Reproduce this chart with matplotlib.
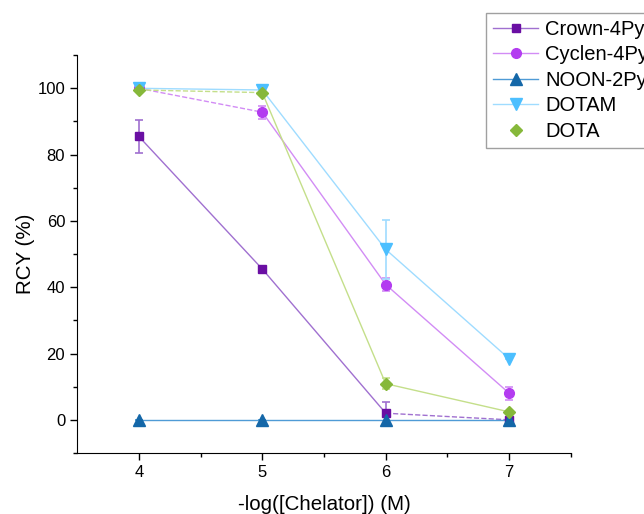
import matplotlib.pyplot as plt
from matplotlib.lines import Line2D

plt.rcParams['font.family'] = ['Liberation Sans', 'DejaVu Sans']

# -log([Chelator]) values
conc = [4, 5, 6, 7]

# RCY (%) per chelator, with error bars
crown = [85.5, 45.5, 2.0, 0.0]
crown_err = [5.0, 0.0, 3.3, 0.0]
cyclen = [100.0, 92.8, 40.8, 8.0]
cyclen_err = [0.0, 2.0, 2.0, 2.0]
noon = [0.0, 0.0, 0.0, 0.0]
noon_err = [0.0, 0.0, 1.5, 0.0]
dotam = [100.0, 99.5, 51.4, 18.4]
dotam_err = [0.0, 0.0, 8.8, 0.0]
dota = [99.5, 98.7, 10.9, 2.4]
dota_err = [0.0, 0.0, 1.7, 0.0]

labels = ["Crown-4Py", "Cyclen-4Py", "NOON-2Py", "DOTAM", "DOTA"]

# (marker, marker colour, line colour, segment styles, marker size)
series = [
    (crown, crown_err, "s", "#6a0fa3", "#a070d0", ["-", "-", "--"], 6),
    (cyclen, cyclen_err, "o", "#b33cf0", "#d28cf5", ["--", "-", "-"], 7),
    (noon, noon_err, "^", "#1467a8", "#4f9bd6", ["-", "-", "-"], 8),
    (dotam, dotam_err, "v", "#4cbfff", "#9fdcff", ["-", "-", "-"], 8),
    (dota, dota_err, "D", "#86b83a", "#c4df8a", ["--", "-", "-"], 6),
]

fig = plt.figure(figsize=(6.44, 5.14), dpi=100)
ax = fig.add_axes([0.1196, 0.1187, 0.767, 0.774])

handles = []
for (vals, errs, mk, mcol, lcol, styles, ms), lab in zip(series, labels):
    for i, ls in enumerate(styles):
        ax.plot(conc[i:i + 2], vals[i:i + 2], color=lcol, ls=ls, lw=1, zorder=2)
    ax.errorbar(conc, vals, yerr=errs, fmt="none", ecolor=lcol, elinewidth=1.2,
                capsize=3, capthick=1.2, zorder=3)
    ax.plot(conc, vals, ls="none", marker=mk, color=mcol, ms=ms, zorder=4)
    if lab == "DOTA":
        handles.append(Line2D([], [], ls="none", marker=mk, color=mcol, ms=ms))
    else:
        handles.append(Line2D([], [], ls="-", lw=1, color=lcol, marker=mk,
                              markerfacecolor=mcol, markeredgecolor=mcol, ms=ms))

ax.set_xlim(3.5, 7.5)
ax.set_ylim(-10, 110)
ax.set_xticks([4, 5, 6, 7])
ax.set_xticks([4.5, 5.5, 6.5, 7.5], minor=True)
ax.set_yticks([0, 20, 40, 60, 80, 100])
ax.set_yticks([-10, 10, 30, 50, 70, 90, 110], minor=True)
ax.tick_params(which="major", direction="out", length=5, width=1, labelsize=12)
ax.tick_params(which="minor", direction="out", length=3, width=1)
ax.spines["top"].set_visible(False)
ax.spines["right"].set_visible(False)
ax.set_xlabel("-log([Chelator]) (M)", fontsize=14.8, labelpad=11)
ax.set_ylabel("RCY (%)", fontsize=14.8, labelpad=2)

leg = fig.legend(handles, labels, loc="upper left",
                 bbox_to_anchor=(486 / 644, 1 - 13 / 514), fontsize=14.5,
                 frameon=True, fancybox=False, edgecolor="#888888",
                 handlelength=2.25, borderpad=0.35, labelspacing=0.32,
                 handletextpad=0.35, borderaxespad=0)
leg.get_frame().set_linewidth(1)

fig.savefig("out.png", dpi=100)
